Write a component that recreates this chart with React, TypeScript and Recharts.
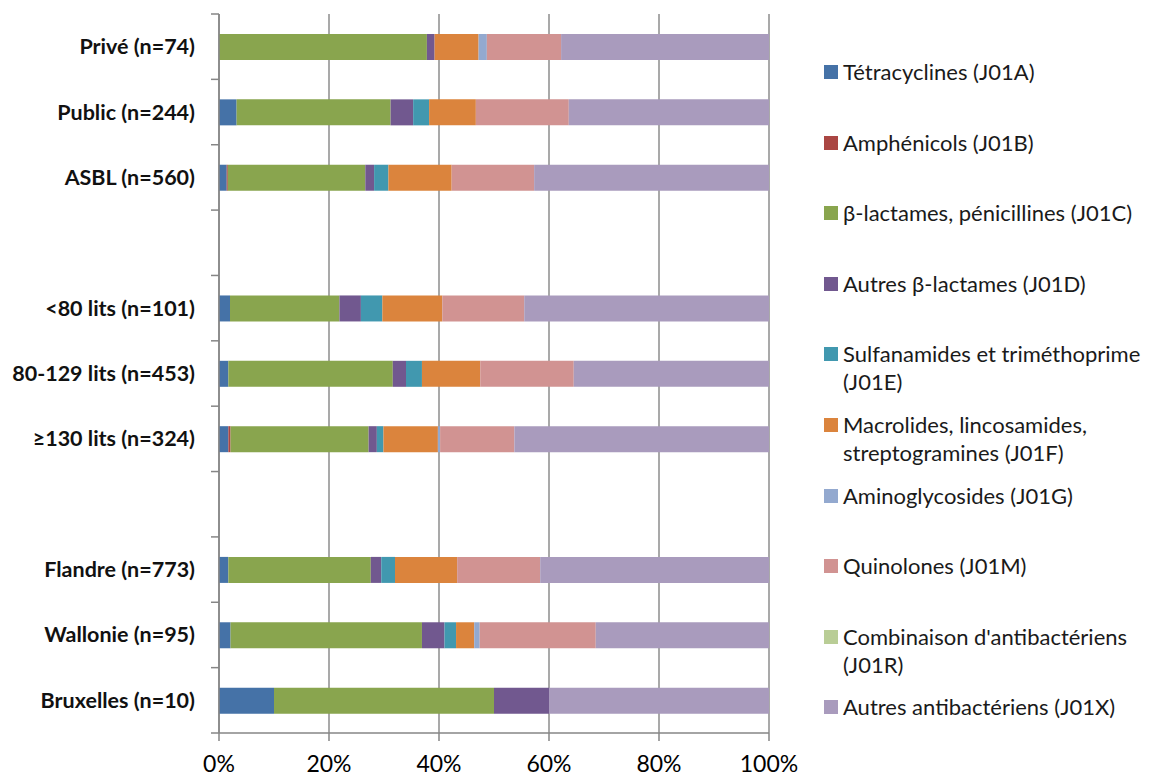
import React from 'react';
import { BarChart, Bar, XAxis, YAxis, CartesianGrid } from 'recharts';

const categories = ['Privé (n=74)', 'Public (n=244)', 'ASBL (n=560)', '', '<80 lits (n=101)', '80-129 lits (n=453)', '≥130 lits (n=324)', '', 'Flandre (n=773)', 'Wallonie (n=95)', 'Bruxelles (n=10)'];

const seriesNames = [
  'Tétracyclines (J01A)',
  'Amphénicols (J01B)',
  'β-lactames, pénicillines (J01C)',
  'Autres β-lactames (J01D)',
  'Sulfanamides et triméthoprime\n(J01E)',
  'Macrolides, lincosamides,\nstreptogramines (J01F)',
  'Aminoglycosides (J01G)',
  'Quinolones (J01M)',
  "Combinaison d'antibactériens\n(J01R)",
  'Autres antibactériens (J01X)',
];
const seriesColors = ['#4572A7', '#AA4643', '#89A54E', '#71588F', '#4198AF', '#DB843D', '#93A9CF', '#D19392', '#B9CD96', '#A99BBD'];

const tetracyclines = [0, 3.2, 1.4, 0, 2.0, 1.7, 1.7, 0, 1.7, 2.1, 10];
const amphenicols = [0, 0, 0.2, 0, 0, 0, 0.4, 0, 0, 0, 0];
const penicillines = [37.8, 28.0, 25.0, 0, 19.9, 29.9, 25.1, 0, 25.9, 34.8, 40];
const autresBeta = [1.4, 4.1, 1.6, 0, 3.9, 2.4, 1.5, 0, 1.9, 4.1, 10];
const sulfanamides = [0, 2.9, 2.6, 0, 3.9, 2.9, 1.2, 0, 2.5, 2.1, 0];
const macrolides = [8.0, 8.5, 11.5, 0, 10.9, 10.6, 9.9, 0, 11.3, 3.3, 0];
const aminoglycosides = [1.5, 0, 0, 0, 0, 0, 0.4, 0, 0, 1.0, 0];
const quinolones = [13.5, 16.9, 15.0, 0, 14.9, 17.0, 13.5, 0, 15.1, 21.1, 0];
const combinaison = [0, 0, 0, 0, 0, 0, 0, 0, 0, 0, 0];
const autresAnti = [37.8, 36.4, 42.7, 0, 44.5, 35.5, 46.3, 0, 41.6, 31.5, 40];

const seriesValues = [tetracyclines, amphenicols, penicillines, autresBeta, sulfanamides, macrolides, aminoglycosides, quinolones, combinaison, autresAnti];
const xTicks = [0, 20, 40, 60, 80, 100];

const FONT = 'Lato, "Open Sans", sans-serif';

const data = categories.map((c, i) => {
  const row: Record<string, any> = { name: c === '' ? ' '.repeat(i) : c };
  seriesValues.forEach((vals, s) => {
    row['s' + s] = vals[i];
  });
  return row;
});

const YTick = (props: any) => {
  const { x, y, payload, index } = props;
  const off = payload.offset ?? 0;
  return (
    <g>
      <line x1={x} x2={x + 8} y1={y - off} y2={y - off} stroke="#868686" strokeWidth={1.5} />
      {index === categories.length - 1 && (
        <line x1={x} x2={x + 8} y1={y + off} y2={y + off} stroke="#868686" strokeWidth={1.5} />
      )}
      <text x={x - 16} y={y} dy="0.35em" textAnchor="end" fontWeight="bold" fontSize={21.5} fontFamily={FONT} fill="#111">
        {String(payload.value).trim()}
      </text>
    </g>
  );
};

export default function App() {
  return (
    <div style={{ position: 'absolute', left: 0, top: 0, width: 1150, height: 778, background: '#fff' }}>
      <BarChart
        width={1150}
        height={778}
        data={data}
        layout="vertical"
        margin={{ top: 14, right: 381, left: 0, bottom: 0 }}
        barSize={26}
      >
        <CartesianGrid horizontal={false} stroke="#8c8c8c" strokeWidth={1.5} />
        <XAxis
          type="number"
          domain={[0, 100]}
          ticks={xTicks}
          tickFormatter={(v: number) => `${v}%`}
          height={45}
          tickSize={8}
          tickMargin={15}
          tick={{ fontSize: 23, fill: '#000', fontFamily: FONT }}
          axisLine={{ stroke: '#868686', strokeWidth: 1.5 }}
          tickLine={{ stroke: '#868686', strokeWidth: 1.5 }}
        />
        <YAxis
          type="category"
          dataKey="name"
          width={219}
          interval={0}
          tickSize={8}
          tickMargin={0}
          tickLine={false}
          axisLine={{ stroke: '#868686', strokeWidth: 1.5 }}
          tick={<YTick />}
        />
        {seriesNames.map((n, s) => (
          <Bar key={s} dataKey={'s' + s} name={n} stackId="a" fill={seriesColors[s]} isAnimationActive={false} />
        ))}
      </BarChart>
      <div style={{ position: 'absolute', left: 824, top: 0, width: 326, fontFamily: FONT, fontSize: 22, color: '#1a1a1a' }}>
        {seriesNames.map((n, s) => (
          <div key={s} style={{ position: 'absolute', left: 0, top: 72 + s * 70.6 - 14, display: 'flex', alignItems: 'flex-start' }}>
            <div style={{ width: 14, height: 14, background: seriesColors[s], marginTop: 7, marginRight: 5, flex: 'none' }} />
            <div style={{ whiteSpace: 'pre-line', lineHeight: '28px' }}>{n}</div>
          </div>
        ))}
      </div>
    </div>
  );
}
